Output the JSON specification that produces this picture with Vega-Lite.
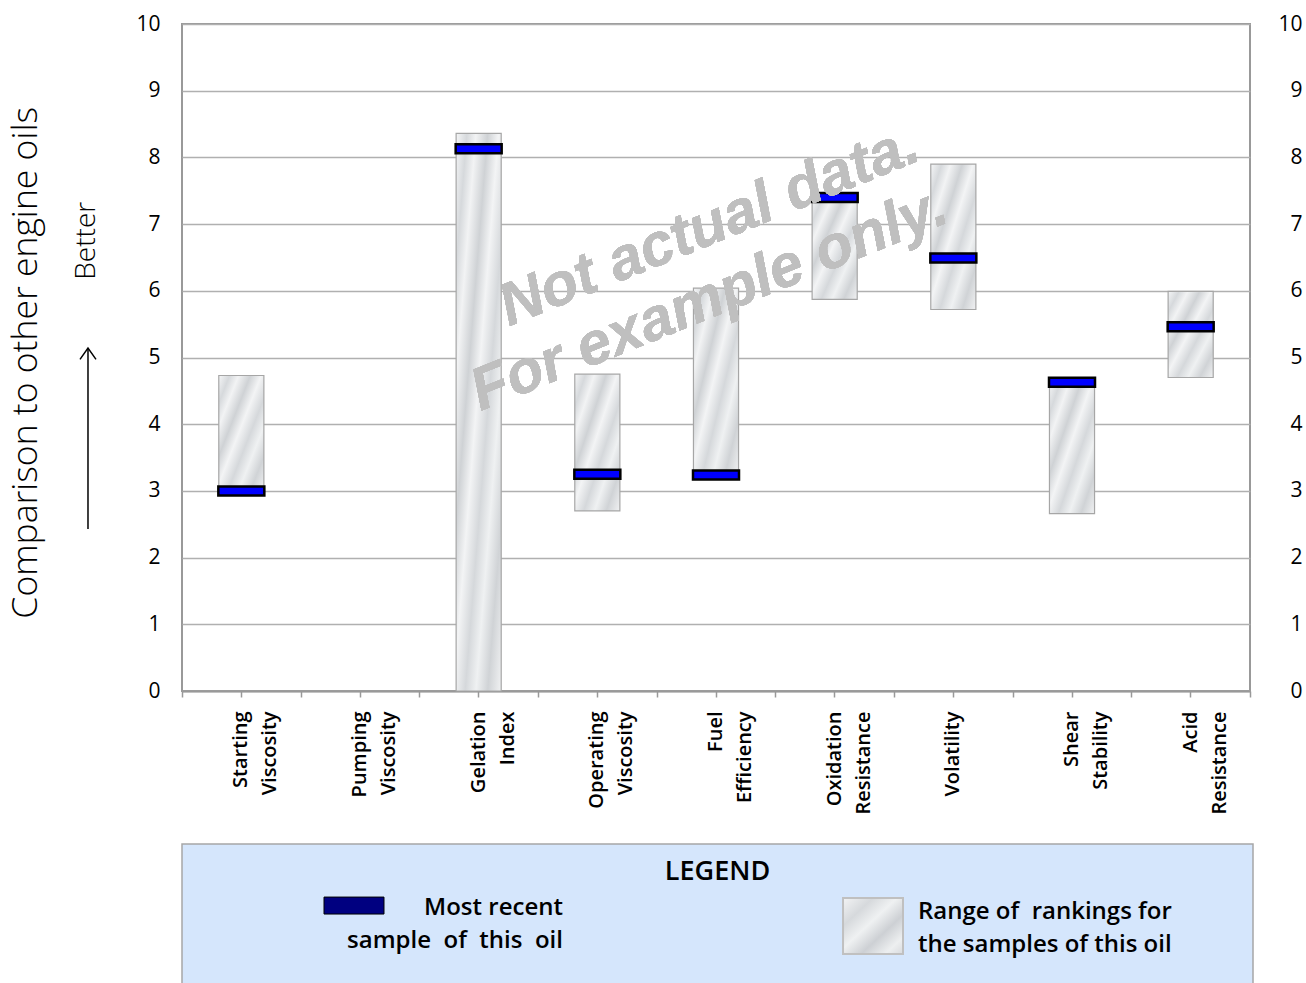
{
  "$schema": "https://vega.github.io/schema/vega-lite/v6.json",
  "padding": {"left": 0, "top": 12, "right": 0, "bottom": 0},
  "autosize": {"type": "pad"},
  "background": "white",
  "config": {
    "view": {"stroke": "#999999", "strokeWidth": 2},
    "font": "Open Sans"
  },
  "bounds": "flush",
  "spacing": 46,
  "hconcat": [
    {
      "width": 136,
      "height": 667,
      "view": {"stroke": null},
      "data": {"values": [{"item": "annotation"}]},
      "layer": [
        {
          "mark": {"type": "text", "text": "Comparison to other engine oils", "angle": 270, "fontSize": 35.5, "font": "Open Sans", "fontWeight": 300, "align": "center", "baseline": "alphabetic", "color": "#000000"},
          "encoding": {
            "x": {"datum": 27.2, "type": "quantitative", "scale": {"domain": [0, 100]}, "axis": null},
            "y": {"datum": 4.92, "type": "quantitative", "scale": {"domain": [0, 10]}, "axis": null}
          }
        },
        {
          "mark": {"type": "text", "text": "Better", "angle": 270, "fontSize": 28, "font": "Open Sans", "fontWeight": 300, "align": "center", "baseline": "alphabetic", "color": "#000000"},
          "encoding": {
            "x": {"datum": 69.9, "type": "quantitative", "scale": {"domain": [0, 100]}, "axis": null},
            "y": {"datum": 6.75, "type": "quantitative", "scale": {"domain": [0, 10]}, "axis": null}
          }
        },
        {
          "mark": {"type": "rule", "color": "#000000", "strokeWidth": 1.5},
          "encoding": {
            "x": {"datum": 64.7, "type": "quantitative", "scale": {"domain": [0, 100]}, "axis": null},
            "y": {"datum": 2.43, "type": "quantitative", "scale": {"domain": [0, 10]}, "axis": null},
            "y2": {"datum": 5.14}
          }
        },
        {
          "mark": {"type": "point", "shape": "M-1,1.4L0,0L1,1.4", "size": 256, "filled": false, "stroke": "#000000", "strokeWidth": 1.5, "opacity": 1},
          "encoding": {
            "x": {"datum": 64.7, "type": "quantitative", "scale": {"domain": [0, 100]}, "axis": null},
            "y": {"datum": 5.14, "type": "quantitative", "scale": {"domain": [0, 10]}, "axis": null}
          }
        }
      ]
    },
    {
      "bounds": "flush",
      "spacing": 153,
      "vconcat": [
        {
          "width": 1068,
          "height": 667,
          "data": {
            "values": [
              {"parameter": "Starting Viscosity", "low": 3.0, "high": 4.73, "recent": 3.0},
              {"parameter": "Gelation Index", "low": 0, "high": 8.36, "recent": 8.13},
              {"parameter": "Operating Viscosity", "low": 2.7, "high": 4.75, "recent": 3.25},
              {"parameter": "Fuel Efficiency", "low": 3.24, "high": 6.04, "recent": 3.24},
              {"parameter": "Oxidation Resistance", "low": 5.87, "high": 7.4, "recent": 7.4},
              {"parameter": "Volatility", "low": 5.72, "high": 7.9, "recent": 6.49},
              {"parameter": "Shear Stability", "low": 2.66, "high": 4.63, "recent": 4.63},
              {"parameter": "Acid Resistance", "low": 4.7, "high": 5.99, "recent": 5.46}
            ]
          },
          "resolve": {"axis": {"x": "independent", "y": "independent"}},
          "layer": [
            {
              "mark": {
                "type": "bar",
                "width": {"band": 0.38},
                "fill": {
                  "gradient": "linear", "x1": 0, "y1": 0, "x2": 1, "y2": 1,
                  "stops": [
                    {"offset": 0, "color": "#f5f6f7"},
                    {"offset": 0.12, "color": "#d6d9dc"},
                    {"offset": 0.22, "color": "#f2f3f4"},
                    {"offset": 0.35, "color": "#cfd2d5"},
                    {"offset": 0.47, "color": "#f3f4f5"},
                    {"offset": 0.6, "color": "#d5d8db"},
                    {"offset": 0.72, "color": "#eff1f2"},
                    {"offset": 0.85, "color": "#d0d3d6"},
                    {"offset": 1, "color": "#f1f2f3"}
                  ]
                },
                "stroke": "#a6a6a6",
                "strokeWidth": 1.2
              },
              "encoding": {
                "x": {
                  "field": "parameter", "type": "nominal", "sort": null,
                  "scale": {"domain": ["Starting Viscosity", "Pumping Viscosity", "Gelation Index", "Operating Viscosity", "Fuel Efficiency", "Oxidation Resistance", "Volatility", "Shear Stability", "Acid Resistance"], "paddingInner": 0, "paddingOuter": 0},
                  "axis": {
                    "orient": "bottom", "title": null, "labelAngle": 270, "labelExpr": "split(datum.label, ' ')",
                    "labelFont": "Open Sans", "labelFontWeight": 600, "labelFontSize": 20, "labelLineHeight": 29, "labelColor": "#000000",
                    "labelPadding": 14, "labelOverlap": false, "labelBound": false, "labelLimit": 300,
                    "ticks": true, "tickSize": 6, "tickColor": "#999999", "tickWidth": 1.5, "domain": true, "domainColor": "#999999", "domainWidth": 2, "grid": false
                  }
                },
                "y": {
                  "field": "low", "type": "quantitative",
                  "scale": {"domain": [0, 10], "nice": false, "zero": true},
                  "axis": {
                    "orient": "left", "title": null, "values": [0, 1, 2, 3, 4, 5, 6, 7, 8, 9, 10],
                    "grid": true, "gridColor": "#b0b0b0", "gridWidth": 1.3, "ticks": false, "tickSize": 0, "domain": false,
                    "labelFont": "Open Sans", "labelFontSize": 21, "labelColor": "#000000", "labelPadding": 22
                  }
                },
                "y2": {"field": "high"}
              }
            },
            {
              "mark": {"type": "tick", "orient": "horizontal", "thickness": 9, "size": 46, "color": "#0000ff", "stroke": "#000000", "strokeWidth": 2.5, "opacity": 1},
              "encoding": {
                "x": {
                  "field": "parameter", "type": "nominal", "sort": null,
                  "axis": {"orient": "bottom", "title": null, "labels": false, "ticks": true, "tickBand": "extent", "tickSize": 6, "tickColor": "#999999", "tickWidth": 1.5, "domain": false, "grid": false}
                },
                "y": {
                  "field": "recent", "type": "quantitative",
                  "axis": {
                    "orient": "right", "title": null, "values": [0, 1, 2, 3, 4, 5, 6, 7, 8, 9, 10],
                    "grid": false, "ticks": false, "tickSize": 0, "domain": false,
                    "labelFont": "Open Sans", "labelFontSize": 21, "labelColor": "#000000", "labelAlign": "right", "labelPadding": 52
                  }
                }
              }
            },
            {
              "mark": {"type": "text", "text": "Not actual data.", "angle": 338, "font": "Liberation Sans", "fontWeight": "bold", "fontStyle": "italic", "fontSize": 60, "color": "#bfbfbf", "align": "center", "baseline": "alphabetic"},
              "encoding": {
                "x": {"datum": "Fuel Efficiency", "type": "nominal", "axis": null},
                "y": {"datum": 6.72, "type": "quantitative", "axis": null}
              }
            },
            {
              "mark": {"type": "text", "text": "For example only.", "angle": 338, "font": "Liberation Sans", "fontWeight": "bold", "fontStyle": "italic", "fontSize": 60, "color": "#bfbfbf", "align": "center", "baseline": "alphabetic"},
              "encoding": {
                "x": {"datum": "Fuel Efficiency", "type": "nominal", "axis": null},
                "y": {"datum": 5.62, "type": "quantitative", "axis": null}
              }
            }
          ]
        },
        {
          "width": 1071,
          "height": 145,
          "view": {"fill": "#d5e6fc", "stroke": "#a6a6a6", "strokeWidth": 1.5},
          "data": {"values": [{"item": "legend"}]},
          "layer": [
            {
              "mark": {"type": "text", "text": "LEGEND", "font": "Open Sans", "fontWeight": 600, "fontSize": 27, "color": "#000000", "align": "center", "baseline": "middle"},
              "encoding": {
                "x": {"datum": 50, "type": "quantitative", "scale": {"domain": [0, 100]}, "axis": null},
                "y": {"datum": 19.3, "type": "quantitative", "scale": {"domain": [0, 100], "reverse": true}, "axis": null}
              }
            },
            {
              "mark": {"type": "rect", "fill": "#000080", "stroke": "#000000", "strokeWidth": 1},
              "encoding": {
                "x": {"datum": 13.26, "type": "quantitative", "scale": {"domain": [0, 100]}, "axis": null},
                "x2": {"datum": 18.86},
                "y": {"datum": 36.6, "type": "quantitative", "scale": {"domain": [0, 100], "reverse": true}, "axis": null},
                "y2": {"datum": 48.3}
              }
            },
            {
              "mark": {"type": "text", "text": "Most recent", "font": "Open Sans", "fontWeight": 600, "fontSize": 24, "color": "#000000", "align": "right", "baseline": "middle"},
              "encoding": {
                "x": {"datum": 35.57, "type": "quantitative", "scale": {"domain": [0, 100]}, "axis": null},
                "y": {"datum": 44.1, "type": "quantitative", "scale": {"domain": [0, 100], "reverse": true}, "axis": null}
              }
            },
            {
              "mark": {"type": "text", "text": "sample\u00a0 of\u00a0 this\u00a0 oil", "font": "Open Sans", "fontWeight": 600, "fontSize": 24, "color": "#000000", "align": "right", "baseline": "middle"},
              "encoding": {
                "x": {"datum": 35.57, "type": "quantitative", "scale": {"domain": [0, 100]}, "axis": null},
                "y": {"datum": 66.9, "type": "quantitative", "scale": {"domain": [0, 100], "reverse": true}, "axis": null}
              }
            },
            {
              "mark": {
                "type": "rect",
                "fill": {
                  "gradient": "linear", "x1": 0, "y1": 0, "x2": 1, "y2": 1,
                  "stops": [
                    {"offset": 0, "color": "#f3f4f5"},
                    {"offset": 0.25, "color": "#d6d9dc"},
                    {"offset": 0.45, "color": "#eff1f2"},
                    {"offset": 0.65, "color": "#cdd0d4"},
                    {"offset": 0.85, "color": "#edeff0"},
                    {"offset": 1, "color": "#d8dadd"}
                  ]
                },
                "stroke": "#c0c0c0", "strokeWidth": 2
              },
              "encoding": {
                "x": {"datum": 61.72, "type": "quantitative", "scale": {"domain": [0, 100]}, "axis": null},
                "x2": {"datum": 67.32},
                "y": {"datum": 37.2, "type": "quantitative", "scale": {"domain": [0, 100], "reverse": true}, "axis": null},
                "y2": {"datum": 75.9}
              }
            },
            {
              "mark": {"type": "text", "text": "Range of\u00a0 rankings for", "font": "Open Sans", "fontWeight": 600, "fontSize": 24, "color": "#000000", "align": "left", "baseline": "middle"},
              "encoding": {
                "x": {"datum": 68.72, "type": "quantitative", "scale": {"domain": [0, 100]}, "axis": null},
                "y": {"datum": 46.9, "type": "quantitative", "scale": {"domain": [0, 100], "reverse": true}, "axis": null}
              }
            },
            {
              "mark": {"type": "text", "text": "the samples of this oil", "font": "Open Sans", "fontWeight": 600, "fontSize": 24, "color": "#000000", "align": "left", "baseline": "middle"},
              "encoding": {
                "x": {"datum": 68.72, "type": "quantitative", "scale": {"domain": [0, 100]}, "axis": null},
                "y": {"datum": 69.7, "type": "quantitative", "scale": {"domain": [0, 100], "reverse": true}, "axis": null}
              }
            }
          ]
        }
      ]
    }
  ]
}
